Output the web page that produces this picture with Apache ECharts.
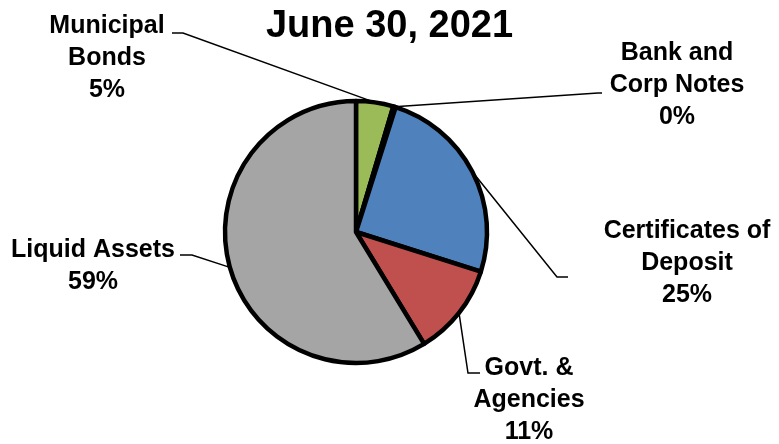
<!DOCTYPE html>
<html>
<head>
<meta charset="utf-8">
<script src="https://cdn.jsdelivr.net/npm/echarts@6/dist/echarts.min.js"></script>
<style>html,body{margin:0;padding:0;background:#fff}#c{width:779px;height:444px}</style>
</head>
<body>
<div id="c"></div>
<script>
// Data
const titleText = 'June 30, 2021';
const categories = ['Municipal\nBonds', 'Bank and\nCorp Notes', 'Certificates of\nDeposit', 'Govt. &\nAgencies', 'Liquid Assets'];
const values = [4.6, 0.3, 25.0, 11.4, 58.7];
const colors = ['#9BBB59', '#4F81BD', '#4F81BD', '#C0504D', '#A5A5A5'];

// Label layout (positions only)
const labelPos = [
  { x: 107, y: 58, elbow: [183, 33], end: [172, 33] },
  { x: 677, y: 85, elbow: [598, 93], end: [602, 93] },
  { x: 687, y: 263, elbow: [557, 277], end: [568, 277] },
  { x: 529, y: 400, elbow: [468, 373], end: [480, 373] },
  { x: 93, y: 266, elbow: [192, 255], end: [180, 255] }
];

const chart = echarts.init(document.getElementById('c'), null, { renderer: 'canvas' });
chart.setOption({
  animation: false,
  backgroundColor: '#fff',
  title: {
    text: titleText,
    left: 'center',
    top: 3,
    textStyle: { fontFamily: 'Liberation Sans, Arial', fontWeight: 'bold', fontSize: 38, color: '#000' }
  },
  series: [{
    type: 'pie',
    center: [356, 232],
    radius: [0, 131],
    startAngle: 90,
    clockwise: true,
    avoidLabelOverlap: false,
    itemStyle: { borderColor: '#000', borderWidth: 4.5 },
    label: {
      show: true,
      position: 'outside',
      formatter: p => p.name + '\n' + Math.round(p.value) + '%',
      fontFamily: 'Liberation Sans, Arial',
      fontWeight: 'bold',
      fontSize: 25,
      lineHeight: 32,
      color: '#000',
      align: 'center'
    },
    labelLine: { show: true, lineStyle: { color: '#000', width: 1.5 } },
    labelLayout: function (params) {
      const lp = labelPos[params.dataIndex];
      const start = params.labelLinePoints ? params.labelLinePoints[0] : lp.elbow;
      return {
        x: lp.x,
        y: lp.y,
        align: 'center',
        verticalAlign: 'middle',
        labelLinePoints: [start, lp.elbow, lp.end]
      };
    },
    data: categories.map((n, i) => ({ name: n, value: values[i], itemStyle: { color: colors[i] } }))
  }]
});
</script>
</body>
</html>
